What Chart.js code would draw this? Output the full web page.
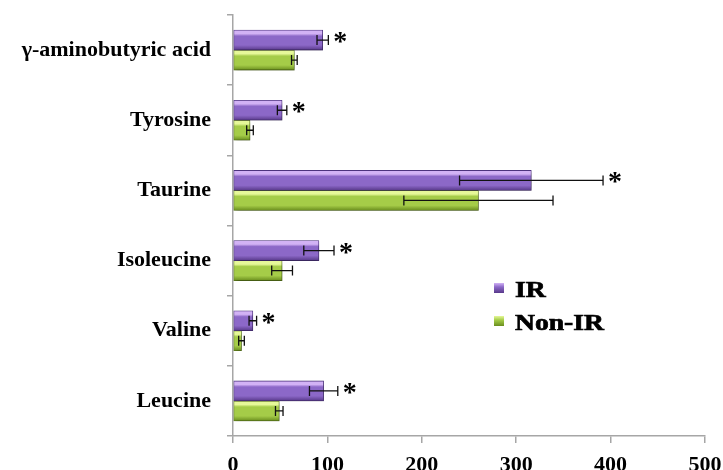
<!DOCTYPE html>
<html>
<head>
<meta charset="utf-8">
<script src="https://cdn.jsdelivr.net/npm/chart.js@4/dist/chart.umd.min.js"></script>
<style>
  html, body { margin: 0; padding: 0; background: #fff; }
  #wrap { width: 723px; height: 470px; position: relative; }
</style>
</head>
<body>
<div id="wrap"><canvas id="chart" width="723" height="470"></canvas></div>
<script>
// Amino acid levels, IR vs Non-IR (mean ± error)
const categories = ['γ-aminobutyric acid', 'Tyrosine', 'Taurine', 'Isoleucine', 'Valine', 'Leucine'];
const irValues = [95, 52, 316, 91, 21, 96];
const irErrors = [6, 5, 76, 16, 4, 15];
const nonIrValues = [65, 18, 260, 52, 9, 49];
const nonIrErrors = [3, 3.5, 79, 11, 3, 4];
const significant = [true, true, true, true, true, true];
const xTicks = [0, 100, 200, 300, 400, 500];
const seriesNames = ['IR', 'Non-IR'];

const FONT = '"Liberation Serif", "Times New Roman", serif';
const BAR = 20;
const AXIS_GREY = '#a6a6a6';

const palettes = [
  { light: '#d2b2f5', mid: '#8c68c8', dark: '#58398a', edge: '#4e3480' },
  { light: '#e6f899', mid: '#a5cc48', dark: '#6a8e1e', edge: '#5f7f1a' }
];

function bevelFill(ctx) {
  const p = palettes[ctx.datasetIndex];
  const chart = ctx.chart;
  const ys = chart.scales && chart.scales.y;
  if (!ys || ctx.type !== 'data') return p.mid;
  const top = ys.getPixelForValue(ctx.dataIndex) - BAR + ctx.datasetIndex * BAR;
  if (!Number.isFinite(top)) return p.mid;
  const g = chart.ctx.createLinearGradient(0, top, 0, top + BAR);
  g.addColorStop(0, p.light);
  g.addColorStop(0.18, p.light);
  g.addColorStop(0.3, p.mid);
  g.addColorStop(0.75, p.mid);
  g.addColorStop(1, p.dark);
  return g;
}

// soft drop shadow beneath the bars
const barShadow = {
  id: 'barShadow',
  beforeDatasetsDraw(chart) {
    const c = chart.ctx;
    c.save();
    c.shadowColor = 'rgba(0,0,0,0.35)';
    c.shadowBlur = 5;
    c.shadowOffsetX = 2;
    c.shadowOffsetY = 3;
  },
  afterDatasetsDraw(chart) {
    chart.ctx.restore();
  }
};

// error bars with end caps, plus significance asterisks on the IR series
const errorBars = {
  id: 'errorBars',
  afterDatasetsDraw(chart) {
    const c = chart.ctx;
    const xs = chart.scales.x;
    c.save();
    c.strokeStyle = '#111';
    c.lineWidth = 1.3;
    chart.data.datasets.forEach((ds, di) => {
      const meta = chart.getDatasetMeta(di);
      meta.data.forEach((bar, i) => {
        const v = ds.data[i], e = ds.errors[i];
        const x0 = xs.getPixelForValue(v - e);
        const x1 = xs.getPixelForValue(v + e);
        const y = bar.y;
        c.beginPath();
        c.moveTo(x0, y); c.lineTo(x1, y);
        c.moveTo(x0, y - 5); c.lineTo(x0, y + 5);
        c.moveTo(x1, y - 5); c.lineTo(x1, y + 5);
        c.stroke();
        if (di === 0 && significant[i]) {
          c.fillStyle = '#000';
          c.font = 'bold 28px ' + FONT;
          c.textAlign = 'left';
          c.textBaseline = 'alphabetic';
          c.fillText('*', x1 + 5, y + 10);
        }
      });
    });
    c.restore();
  }
};

// legend placed inside the plot on the right
const sideLegend = {
  id: 'sideLegend',
  afterDraw(chart) {
    const c = chart.ctx;
    c.save();
    c.font = 'bold 24px ' + FONT;
    c.textAlign = 'left';
    c.textBaseline = 'alphabetic';
    chart.data.datasets.forEach((ds, i) => {
      const base = 297 + i * 33;
      const p = palettes[i];
      const mx = 494, my = base - 14, ms = 10;
      const g = c.createLinearGradient(0, my, 0, my + ms);
      g.addColorStop(0, p.light);
      g.addColorStop(0.4, p.mid);
      g.addColorStop(1, p.dark);
      c.fillStyle = g;
      c.fillRect(mx, my, ms, ms);
      c.fillStyle = '#000';
      c.strokeStyle = '#000';
      c.lineWidth = 0.7;
      c.save();
      c.translate(515, base);
      c.scale(1.15, 1);
      c.fillText(ds.label, 0, 0);
      c.strokeText(ds.label, 0, 0);
      c.restore();
    });
    c.restore();
  }
};

const barStyle = {
  barThickness: BAR,
  backgroundColor: bevelFill,
  borderColor: ctx => palettes[ctx.datasetIndex].edge,
  borderWidth: 0.8,
  borderSkipped: false
};

new Chart(document.getElementById('chart'), {
  type: 'bar',
  data: {
    labels: categories,
    datasets: [
      Object.assign({ label: seriesNames[0], data: irValues, errors: irErrors }, barStyle),
      Object.assign({ label: seriesNames[1], data: nonIrValues, errors: nonIrErrors }, barStyle)
    ]
  },
  options: {
    indexAxis: 'y',
    responsive: false,
    animation: false,
    layout: { padding: { top: 15, right: 18, left: 0, bottom: 0 } },
    plugins: {
      legend: { display: false },
      tooltip: { enabled: false },
      colors: { enabled: false }
    },
    scales: {
      y: {
        type: 'category',
        offset: true,
        grid: { offset: true, drawOnChartArea: false, tickLength: 6, color: AXIS_GREY, lineWidth: 1.5 },
        border: { color: AXIS_GREY, width: 1.5 },
        ticks: { color: '#000', padding: 16, font: { family: FONT, size: 22, weight: 'bold' } },
        afterFit(s) { s.width = 233; s.paddingTop = 0; s.paddingBottom = 0; }
      },
      x: {
        type: 'linear',
        min: 0,
        max: 500,
        afterBuildTicks(s) { s.ticks = xTicks.map(v => ({ value: v })); },
        grid: { drawOnChartArea: false, tickLength: 7, color: AXIS_GREY, lineWidth: 1.5 },
        border: { color: AXIS_GREY, width: 1.5 },
        ticks: { color: '#000', padding: 9, font: { family: FONT, size: 22, weight: 'bold' } },
        afterFit(s) { s.height = 34; s.paddingLeft = 0; s.paddingRight = 0; }
      }
    }
  },
  plugins: [barShadow, errorBars, sideLegend]
});
</script>
</body>
</html>
